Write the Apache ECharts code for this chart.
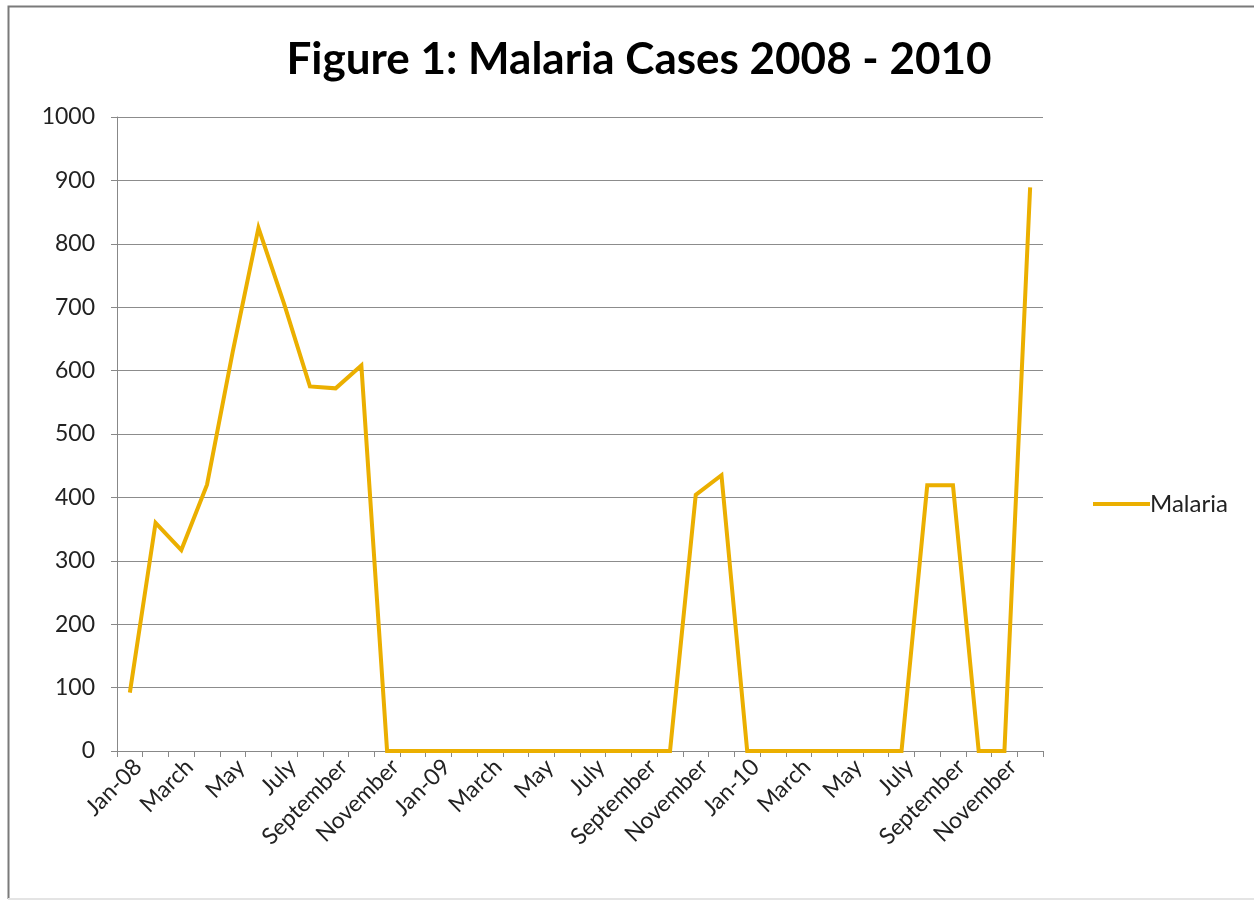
<!DOCTYPE html>
<html>
<head>
<meta charset="utf-8">
<title>Malaria Cases 2008 - 2010</title>
<script src="https://cdn.jsdelivr.net/npm/echarts@6/dist/echarts.min.js"></script>
<style>
  html, body { margin: 0; padding: 0; background: #ffffff; }
  #chart { width: 1255px; height: 907px; }
</style>
</head>
<body>
<div id="chart"></div>
<script>
// Monthly categories, Jan 2008 to Dec 2010
const months = [
  'Jan-08', 'February', 'March', 'April', 'May', 'June', 'July', 'August', 'September', 'October', 'November', 'December',
  'Jan-09', 'February', 'March', 'April', 'May', 'June', 'July', 'August', 'September', 'October', 'November', 'December',
  'Jan-10', 'February', 'March', 'April', 'May', 'June', 'July', 'August', 'September', 'October', 'November', 'December'
];

// Reported malaria cases per month
const malaria2008 = [92, 360, 317, 420, 630, 825, 705, 575, 572, 608, 0, 0];
const malaria2009 = [0, 0, 0, 0, 0, 0, 0, 0, 0, 0, 404, 435];
const malaria2010 = [0, 0, 0, 0, 0, 0, 0, 419, 419, 0, 0, 889];

const malaria = malaria2008.concat(malaria2009, malaria2010);

const yTicks = { min: 0, max: 1000, step: 100 };

const FONT = 'Lato, "Open Sans", sans-serif';

const chart = echarts.init(document.getElementById('chart'), null, { renderer: 'canvas' });

chart.setOption({
  backgroundColor: '#ffffff',
  animation: false,
  title: {
    text: 'Figure 1: Malaria Cases 2008 - 2010',
    left: 634,
    textAlign: 'center',
    top: 33,
    textStyle: { fontFamily: FONT, fontWeight: 'bold', fontSize: 44, color: '#000000' }
  },
  legend: {
    data: ['Malaria'],
    orient: 'vertical',
    left: 1088,
    top: 487,
    itemWidth: 57,
    itemHeight: 4,
    itemGap: 4,
    icon: 'rect',
    textStyle: { fontFamily: FONT, fontSize: 24, color: '#222222', padding: [0, 0, 0, -5] }
  },
  grid: { left: 117, right: 212, top: 117, bottom: 156 },
  xAxis: {
    type: 'category',
    data: months,
    boundaryGap: true,
    axisLine: { lineStyle: { color: '#888888', width: 1 } },
    axisTick: { show: true, interval: 0, length: 6, lineStyle: { color: '#888888' } },
    axisLabel: {
      interval: 1,
      rotate: 45,
      margin: 4,
      verticalAlign: 'top',
      fontFamily: FONT,
      fontSize: 23,
      color: '#222222'
    }
  },
  yAxis: {
    type: 'value',
    min: yTicks.min,
    max: yTicks.max,
    interval: yTicks.step,
    axisLine: { show: true, lineStyle: { color: '#888888', width: 1 } },
    axisTick: { show: true, length: 6, lineStyle: { color: '#888888' } },
    axisLabel: {
      fontFamily: FONT,
      fontSize: 23,
      color: '#222222',
      margin: 22,
      formatter: function (v) { return String(v); }
    },
    splitLine: { show: true, lineStyle: { color: '#8c8c8c', width: 1 } }
  },
  series: [{
    name: 'Malaria',
    type: 'line',
    data: malaria,
    symbol: 'none',
    lineStyle: { color: '#EBAF00', width: 4, join: 'miter' },
    itemStyle: { color: '#EBAF00' }
  }],
  graphic: [{
    type: 'polyline',
    shape: { points: [[1254, 6.5], [8.5, 6.5], [8.5, 899]] },
    style: { stroke: '#7a7a7a', lineWidth: 2, fill: null },
    silent: true
  }, {
    type: 'line',
    shape: { x1: 8, y1: 899, x2: 1254, y2: 899 },
    style: { stroke: '#e4e4e4', lineWidth: 2 },
    silent: true
  }]
});
</script>
</body>
</html>
